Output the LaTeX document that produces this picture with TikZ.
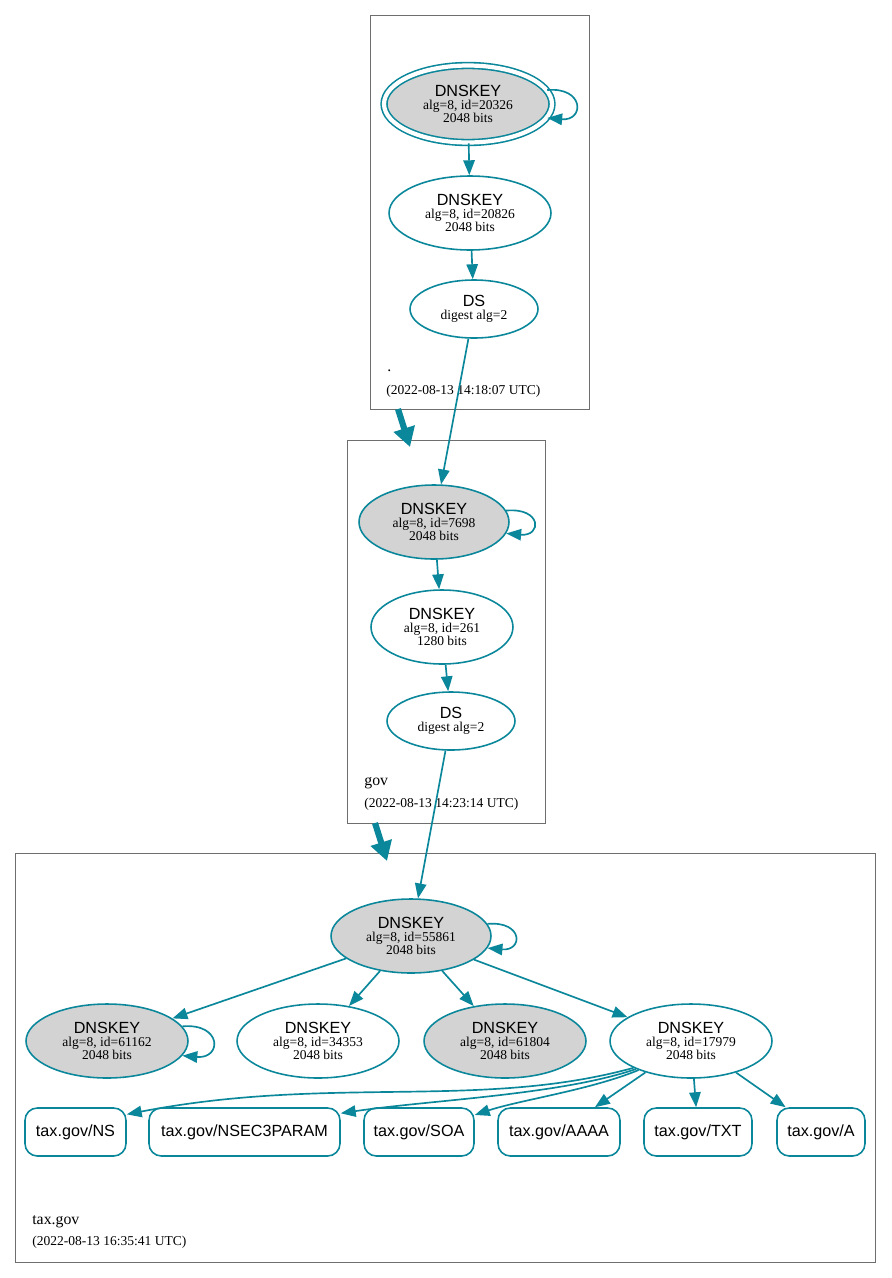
\documentclass[tikz,border=0pt]{standalone}
\usepackage{fontspec}
\setmainfont{Liberation Serif}
\setsansfont{Liberation Sans}
\usetikzlibrary{shapes.geometric, arrows.meta}

\definecolor{dnsteal}{HTML}{0A879A}
\definecolor{keygray}{HTML}{D3D3D3}
\definecolor{zonegray}{HTML}{6E6E6E}

\newcommand{\dnskey}[2]{{\sffamily\fontsize{9.2}{9}\selectfont DNSKEY}\\alg=8, id=#1\\#2 bits}
\newcommand{\dsdigest}{{\sffamily\fontsize{9.2}{9}\selectfont DS}\\digest alg=2}

\tikzset{
	key/.style = {ellipse, draw = dnsteal, line width = 0.9pt, inner sep = 0pt, align = center,
		font = \fontsize{7.7}{7.4}\selectfont, minimum width = 3.24cm, minimum height = 1.48cm},
	ksk/.style = {key, fill = keygray},
	dsrec/.style = {key, minimum width = 2.56cm, minimum height = 1.16cm},
	rrset/.style = {rectangle, rounded corners = 7pt, draw = dnsteal, line width = 0.9pt,
		minimum height = 0.96cm, inner sep = 0pt, font = \sffamily\fontsize{9.2}{11}\selectfont},
	zonebox/.style = {rectangle, draw = zonegray, line width = 0.5pt, inner sep = 0pt},
	zonename/.style = {anchor = base west, inner sep = 0pt, font = \fontsize{9}{11}\selectfont},
	zonetime/.style = {anchor = base west, inner sep = 0pt, font = \fontsize{7.7}{9}\selectfont},
	keyedge/.style = {dnsteal, line width = 0.95pt, -{Triangle[length = 8.5pt, width = 6.5pt]}},
	deleg/.style = {dnsteal, line width = 3.5pt, -{Triangle[length = 11pt, width = 12pt]}}
}

\begin{document}
\begin{tikzpicture}[x = 0.02cm, y = -0.02cm]

	\useasboundingbox (0, 0) rectangle (892, 1278);

	% Zone boxes

	\node [zonebox, minimum width = 4.38cm, minimum height = 7.88cm] (rootzone) at (479.5, 212) {};
	\node [zonebox, minimum width = 3.96cm, minimum height = 7.66cm] (govzone) at (446, 631.5) {};
	\node [zonebox, minimum width = 17.22cm, minimum height = 8.18cm] (taxzone) at (445.5, 1057.5) {};

	\node [zonename] (rootname) at (387, 371) {.};
	\node [zonetime] (roottime) at (386, 394) {(2022-08-13 14:18:07 UTC)};
	\node [zonename] (govname) at (364, 785) {gov};
	\node [zonetime] (govtime) at (364, 807) {(2022-08-13 14:23:14 UTC)};
	\node [zonename] (taxname) at (32, 1224) {tax.gov};
	\node [zonetime] (taxtime) at (32, 1245) {(2022-08-13 16:35:41 UTC)};

	% Delegations between zones

	\coordinate (rootcut) at (398, 409);
	\coordinate (govtop) at (410, 447);
	\coordinate (govcut) at (375, 823);
	\coordinate (taxtop) at (387, 861);

	\draw [deleg] (rootcut) -- (govtop);
	\draw [deleg] (govcut) -- (taxtop);

	% Root zone

	\node [ksk, double = white, double distance = 2.4pt, minimum width = 3.36cm, minimum height = 1.54cm] (rootksk) at (468, 104) {\dnskey{20326}{2048}};
	\node [key] (rootzsk) at (470, 213) {\dnskey{20826}{2048}};
	\node [dsrec] (rootds) at (474, 309) {\dsdigest};

	\draw [keyedge] (rootksk.10) .. controls +(5:0.75cm) and +(-5:0.75cm) .. (rootksk.-10);
	\draw [keyedge] (rootksk) -- (rootzsk);
	\draw [keyedge] (rootzsk) -- (rootds);

	% gov zone

	\node [ksk, minimum width = 3cm] (govksk) at (434, 522) {\dnskey{7698}{2048}};
	\node [key, minimum width = 2.84cm] (govzsk) at (442, 627) {\dnskey{261}{1280}};
	\node [dsrec] (govds) at (451, 721) {\dsdigest};

	\draw [keyedge] (rootds) -- (govksk);
	\draw [keyedge] (govksk.9) .. controls +(5:0.72cm) and +(-5:0.72cm) .. (govksk.-9);
	\draw [keyedge] (govksk) -- (govzsk);
	\draw [keyedge] (govzsk) -- (govds);

	% tax.gov zone

	\node [ksk, minimum width = 3.2cm] (taxksk) at (411, 936) {\dnskey{55861}{2048}};
	\node [ksk] (key61162) at (107, 1041) {\dnskey{61162}{2048}};
	\node [key] (key34353) at (318, 1041) {\dnskey{34353}{2048}};
	\node [ksk] (key61804) at (505, 1041) {\dnskey{61804}{2048}};
	\node [key] (key17979) at (691, 1041) {\dnskey{17979}{2048}};

	\node [rrset, minimum width = 2.02cm] (taxns) at (75.5, 1132) {tax.gov/NS};
	\node [rrset, minimum width = 3.82cm] (taxnsec) at (244.5, 1132) {tax.gov/NSEC3PARAM};
	\node [rrset, minimum width = 2.2cm] (taxsoa) at (419, 1132) {tax.gov/SOA};
	\node [rrset, minimum width = 2.44cm] (taxaaaa) at (559, 1132) {tax.gov/AAAA};
	\node [rrset, minimum width = 2.16cm] (taxtxt) at (698, 1132) {tax.gov/TXT};
	\node [rrset, minimum width = 1.76cm] (taxa) at (821, 1132) {tax.gov/A};

	\draw [keyedge] (govds) -- (taxksk);
	\draw [keyedge] (taxksk.9) .. controls +(5:0.72cm) and +(-5:0.72cm) .. (taxksk.-9);
	\draw [keyedge] (key61162.11) .. controls +(5:0.8cm) and +(-5:0.8cm) .. (key61162.-11);
	\draw [keyedge] (taxksk) -- (key61162);
	\draw [keyedge] (taxksk) -- (key34353);
	\draw [keyedge] (taxksk) -- (key61804);
	\draw [keyedge] (taxksk) -- (key17979);

	\draw [keyedge] (key17979.205) .. controls (480, 1110) and (330, 1075) .. (taxns.19);
	\draw [keyedge] (key17979.207) .. controls (560, 1095) and (430, 1100) .. (taxnsec.11);
	\draw [keyedge] (key17979.209) .. controls (590, 1090) and (520, 1100) .. (taxsoa.17);
	\draw [keyedge] (key17979) -- (taxaaaa);
	\draw [keyedge] (key17979) -- (taxtxt);
	\draw [keyedge] (key17979) -- (taxa);

\end{tikzpicture}
\end{document}
